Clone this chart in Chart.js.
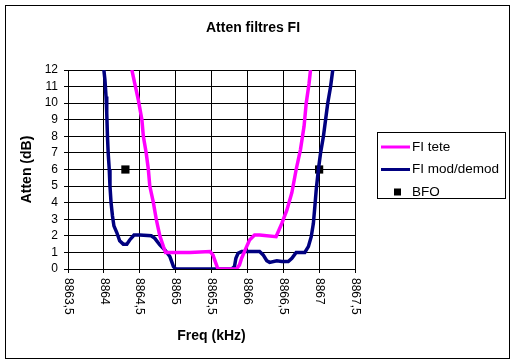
<!DOCTYPE html>
<html>
<head>
<meta charset="utf-8">
<script src="https://cdn.jsdelivr.net/npm/chart.js@4/dist/chart.umd.min.js"></script>
<style>
  body { margin: 0; background: #fff; }
</style>
</head>
<body>
<canvas id="attenChart" width="515" height="364"></canvas>
<script>
// FI tete (magenta)
const freqTete = [8864.39, 8864.43, 8864.48, 8864.53, 8864.55, 8864.59, 8864.62, 8864.64, 8864.69, 8864.73, 8864.78, 8864.83, 8864.86, 8864.97, 8865.2, 8865.48, 8865.52, 8865.56, 8865.59, 8865.85, 8865.89, 8865.92, 8865.97, 8866.03, 8866.1, 8866.17, 8866.4, 8866.43, 8866.48, 8866.55, 8866.62, 8866.68, 8866.74, 8866.79, 8866.82, 8866.86, 8866.88];
const attenTete = [12, 11.2, 10.2, 9.0, 8.0, 7.0, 6.0, 5.0, 4.0, 3.0, 2.0, 1.35, 1.0, 1.0, 1.0, 1.05, 0.85, 0.35, 0, 0, 0.25, 0.65, 1.15, 1.75, 2.05, 2.05, 1.95, 2.25, 2.75, 3.55, 4.6, 6.0, 7.2, 8.6, 10.0, 11.2, 12];

// FI mod/demod (navy)
const freqMod = [8864.0, 8864.015, 8864.03, 8864.04, 8864.05, 8864.06, 8864.075, 8864.085, 8864.1, 8864.12, 8864.14, 8864.18, 8864.22, 8864.27, 8864.32, 8864.36, 8864.42, 8864.5, 8864.66, 8864.71, 8864.78, 8864.85, 8864.92, 8864.97, 8865.0, 8865.06, 8865.5, 8865.78, 8865.82, 8865.84, 8865.87, 8865.92, 8866.17, 8866.22, 8866.27, 8866.31, 8866.41, 8866.48, 8866.57, 8866.62, 8866.68, 8866.8, 8866.85, 8866.89, 8866.92, 8866.94, 8866.96, 8866.99, 8867.02, 8867.06, 8867.09, 8867.12, 8867.16, 8867.19];
const attenMod = [12, 11.4, 10.4, 9.4, 8.0, 7.0, 6.0, 5.0, 4.0, 3.2, 2.6, 2.2, 1.7, 1.5, 1.5, 1.75, 2.05, 2.05, 2.0, 1.85, 1.45, 1.15, 0.75, 0.15, 0, 0, 0, 0, 0.15, 0.65, 0.95, 1.05, 1.05, 0.85, 0.5, 0.4, 0.5, 0.45, 0.45, 0.65, 1.0, 1.0, 1.35, 1.95, 2.75, 3.75, 4.8, 6.0, 7.0, 8.0, 9.0, 10.0, 11.0, 12];

// BFO
const freqBfo = [8864.3, 8867.0];
const attenBfo = [6, 6];

const xMin = 8863.5, xMax = 8867.5, xStep = 0.5;
const yMin = 0, yMax = 12, yStep = 1;

const FONT = "'Liberation Sans', Arial, sans-serif";
Chart.defaults.font.family = FONT;
Chart.defaults.color = '#000';

function toPoints(xs, ys) {
    return xs.map((x, i) => ({ x: x, y: ys[i] }));
}

// title, legend, rotated x labels and frame, drawn the excel way
const excelLook = {
    id: 'excelLook',
    afterDraw(chart) {
        const ctx = chart.ctx;
        const xs = chart.scales.x;
        ctx.save();

        ctx.fillStyle = '#000';
        ctx.font = '12px ' + FONT;
        ctx.textAlign = 'left';
        ctx.textBaseline = 'middle';
        xs.ticks.forEach(t => {
            const px = xs.getPixelForValue(t.value);
            ctx.save();
            ctx.translate(px, xs.top + 9);
            ctx.rotate(Math.PI / 2);
            ctx.fillText(String(t.value).replace('.', ','), 0, 0);
            ctx.restore();
        });

        ctx.font = 'bold 14px ' + FONT;
        ctx.textAlign = 'center';
        ctx.fillText('Atten filtres FI', 253, 28);

        // legend
        ctx.strokeStyle = '#000';
        ctx.lineWidth = 1;
        ctx.strokeRect(377.5, 132.5, 128, 66);
        ctx.font = '13.5px ' + FONT;
        ctx.textAlign = 'left';
        chart.data.datasets.forEach((ds, i) => {
            const y = 147 + i * 22.5;
            if (ds.showLine) {
                ctx.strokeStyle = ds.borderColor;
                ctx.lineWidth = 3;
                ctx.beginPath();
                ctx.moveTo(381, y);
                ctx.lineTo(410, y);
                ctx.stroke();
            } else {
                ctx.fillStyle = ds.backgroundColor;
                ctx.fillRect(394, y - 3.5, 7, 7);
            }
            ctx.fillStyle = '#000';
            ctx.fillText(ds.label, 412, y);
        });

        // chart frame
        ctx.strokeStyle = '#000';
        ctx.lineWidth = 1;
        ctx.strokeRect(5.5, 5.5, 504, 353);
        ctx.restore();
    }
};

new Chart(document.getElementById('attenChart'), {
    type: 'scatter',
    data: {
        datasets: [{
            label: 'FI tete',
            data: toPoints(freqTete, attenTete),
            showLine: true,
            borderColor: '#ff00ff',
            backgroundColor: '#ff00ff',
            borderWidth: 3.5,
            pointRadius: 0,
            tension: 0
        }, {
            label: 'FI mod/demod',
            data: toPoints(freqMod, attenMod),
            showLine: true,
            borderColor: '#000080',
            backgroundColor: '#000080',
            borderWidth: 3.5,
            pointRadius: 0,
            tension: 0
        }, {
            label: 'BFO',
            data: toPoints(freqBfo, attenBfo),
            showLine: false,
            pointStyle: 'rect',
            pointRadius: 5.8,
            borderWidth: 0,
            backgroundColor: '#000',
            borderColor: '#000'
        }]
    },
    options: {
        responsive: false,
        animation: false,
        layout: { padding: { top: 70, right: 160 } },
        plugins: {
            legend: { display: false },
            title: { display: false },
            tooltip: { enabled: false }
        },
        scales: {
            x: {
                type: 'linear',
                min: xMin,
                max: xMax,
                ticks: { stepSize: xStep, display: false, autoSkip: false },
                grid: { color: '#000', lineWidth: 1, tickLength: 4 },
                border: { color: '#000', width: 1 },
                title: {
                    display: true,
                    text: 'Freq (kHz)',
                    font: { size: 14, weight: 'bold' },
                    padding: { top: 0, bottom: 19.6 }
                },
                afterFit(scale) { scale.height = 95; }
            },
            y: {
                min: yMin,
                max: yMax,
                ticks: { stepSize: yStep, padding: 6, font: { size: 12 }, autoSkip: false },
                grid: { color: '#000', lineWidth: 1, tickLength: 4 },
                border: { color: '#000', width: 1 },
                title: {
                    display: true,
                    text: 'Atten (dB)',
                    font: { size: 14, weight: 'bold' },
                    padding: { top: 18.6, bottom: 0 }
                },
                afterFit(scale) { scale.width = 68; }
            }
        }
    },
    plugins: [excelLook]
});
</script>
</body>
</html>
